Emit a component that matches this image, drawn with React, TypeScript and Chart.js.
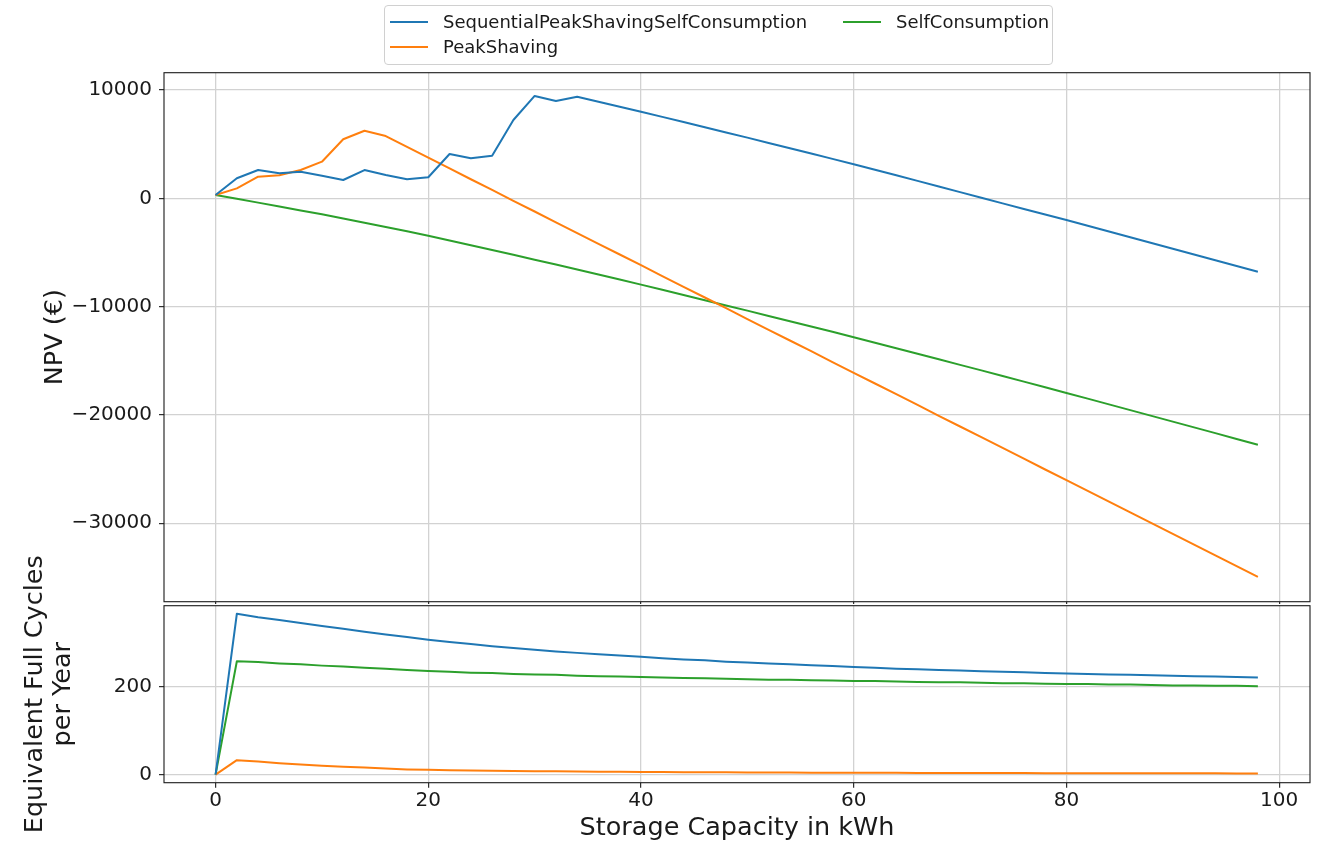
import React, { useEffect, useRef } from 'react';
import { Chart, registerables } from 'chart.js';

Chart.register(...registerables);

// ---------------- data ----------------
const capacity = [0, 2, 4, 6, 8, 10, 12, 14, 16, 18, 20, 22, 24, 26, 28, 30, 32, 34, 36, 38, 40, 42, 44, 46, 48, 50, 52, 54, 56, 58, 60, 62, 64, 66, 68, 70, 72, 74, 76, 78, 80, 82, 84, 86, 88, 90, 92, 94, 96, 98];

const seriesNames = ['SequentialPeakShavingSelfConsumption', 'PeakShaving', 'SelfConsumption'];
const seriesColors = ['#1f77b4', '#ff7f0e', '#2ca02c'];

const npvSequential = [300, 1850, 2610, 2310, 2460, 2090, 1690, 2610, 2150, 1750, 1940, 4090, 3690, 3930, 7230, 9450, 8980, 9380, 8920, 8460, 8000, 7520, 7040, 6560, 6080, 5600, 5110, 4620, 4130, 3640, 3140, 2630, 2120, 1610, 1090, 570, 50, -470, -990, -1500, -2010, -2540, -3070, -3600, -4130, -4660, -5190, -5720, -6250, -6780];
const npvPeakShaving = [300, 920, 1990, 2120, 2610, 3380, 5450, 6240, 5750, 4750, 3760, 2760, 1760, 770, -230, -1220, -2220, -3210, -4200, -5190, -6180, -7180, -8170, -9160, -10150, -11150, -12140, -13130, -14120, -15120, -16110, -17100, -18090, -19080, -20080, -21070, -22060, -23050, -24040, -25040, -26030, -27020, -28010, -29000, -30000, -30990, -31980, -32970, -33970, -34960];
const npvSelfConsumption = [300, -50, -400, -760, -1120, -1480, -1860, -2250, -2650, -3050, -3460, -3890, -4330, -4770, -5220, -5670, -6120, -6570, -7030, -7500, -7970, -8450, -8930, -9410, -9890, -10370, -10860, -11350, -11840, -12330, -12830, -13340, -13850, -14360, -14870, -15380, -15890, -16410, -16930, -17450, -17970, -18500, -19030, -19560, -20090, -20620, -21150, -21680, -22220, -22760];

const efcSequential = [0, 366, 358, 352, 345, 338, 332, 325, 319, 313, 307, 302, 297, 292, 288, 284, 280, 277, 274, 271, 268, 265, 262, 260, 257, 255, 253, 251, 249, 247, 245, 243, 241, 240, 238, 237, 235, 234, 233, 231, 230, 229, 228, 227, 226, 225, 224, 223, 222, 221];
const efcPeakShaving = [0, 33, 30, 26, 23, 20, 18, 16, 14, 12, 11, 10, 9.5, 9, 8.5, 8, 7.5, 7, 6.8, 6.5, 6.2, 6, 5.7, 5.5, 5.3, 5.1, 4.9, 4.7, 4.6, 4.4, 4.3, 4.2, 4.1, 4, 3.9, 3.8, 3.7, 3.6, 3.5, 3.4, 3.4, 3.3, 3.2, 3.2, 3.1, 3.1, 3, 3, 2.9, 2.9];
const efcSelfConsumption = [0, 258, 256, 253, 251, 248, 246, 243, 241, 238, 236, 234, 232, 231, 229, 228, 227, 225, 224, 223, 222, 221, 220, 219, 218, 217, 216, 216, 215, 214, 213, 213, 212, 211, 210, 210, 209, 208, 208, 207, 206, 206, 205, 205, 204, 203, 203, 202, 202, 201];

const xTickValues = [0, 20, 40, 60, 80, 100];
const npvTickValues = [10000, 0, -10000, -20000, -30000];
const efcTickValues = [0, 200];

const xTitle = 'Storage Capacity in kWh';
const npvTitle = 'NPV (€)';
const efcTitle = ['Equivalent Full Cycles', 'per Year'];

// ---------------- styling ----------------
const FONT = 'DejaVu Sans';
const TEXT = '#1a1a1a';
const GRID = '#d2d2d2';
const TICK_FONT = 20;
const TITLE_FONT = 25.5;

const fmt = (v: number) => (v < 0 ? '\u2212' + Math.abs(v) : String(v));

const framePlugin = {
  id: 'frame',
  afterDatasetsDraw(chart: any) {
    const { ctx, chartArea: a } = chart;
    ctx.save();
    ctx.strokeStyle = '#1a1a1a';
    ctx.lineWidth = 1.1;
    ctx.strokeRect(a.left, a.top, a.right - a.left, a.bottom - a.top);
    ctx.restore();
  },
};

const toPoints = (ys: number[]) => capacity.map((x, i) => ({ x, y: ys[i] }));

const makeDatasets = (series: number[][]) =>
  series.map((ys, i) => ({
    label: seriesNames[i],
    data: toPoints(ys),
    borderColor: seriesColors[i],
    backgroundColor: seriesColors[i],
    borderWidth: 2,
    pointRadius: 0,
    tension: 0,
    fill: false,
    borderJoinStyle: 'round' as const,
  }));

const zeroPad = (s: any) => {
  s.paddingTop = 0;
  s.paddingBottom = 0;
  s.paddingLeft = 0;
  s.paddingRight = 0;
};

const xScale = (showLabels: boolean, height: number) => ({
  type: 'linear' as const,
  min: -4.85,
  max: 102.9,
  afterBuildTicks: (s: any) => {
    s.ticks = xTickValues.map((v) => ({ value: v }));
  },
  afterFit: (s: any) => {
    s.height = height;
    zeroPad(s);
  },
  grid: { display: true, color: GRID, lineWidth: 1.3, drawTicks: true, tickLength: 5, tickColor: '#1a1a1a', tickWidth: 1.1 },
  border: { display: false },
  ticks: {
    display: showLabels,
    padding: 1,
    color: TEXT,
    font: { family: FONT, size: TICK_FONT, lineHeight: 1.2 },
    maxRotation: 0,
    callback: (v: any) => fmt(Number(v)),
  },
  title: showLabels
    ? { display: true, text: xTitle, color: TEXT, font: { family: FONT, size: TITLE_FONT, lineHeight: 1.1 }, padding: { top: 0, bottom: 0 } }
    : { display: false },
});

const yScale = (min: number, max: number, tickValues: number[], title: string | string[], titlePad: number, lineHeight: number) => ({
  type: 'linear' as const,
  min,
  max,
  afterBuildTicks: (s: any) => {
    s.ticks = tickValues.map((v) => ({ value: v }));
  },
  afterFit: (s: any) => {
    s.width = 164;
    zeroPad(s);
  },
  grid: { display: true, color: GRID, lineWidth: 1.3, drawTicks: true, tickLength: 5, tickColor: '#1a1a1a', tickWidth: 1.1 },
  border: { display: false },
  ticks: {
    padding: 7,
    color: TEXT,
    font: { family: FONT, size: TICK_FONT },
    callback: (v: any) => fmt(Number(v)),
  },
  title: { display: true, text: title, color: TEXT, font: { family: FONT, size: TITLE_FONT, lineHeight }, padding: { top: titlePad, bottom: 0 } },
});

function LegendItem({ i, x, y }: { i: number; x: number; y: number }) {
  return (
    <>
      <div style={{ position: 'absolute', left: x, top: y - 1, width: 38, height: 2, background: seriesColors[i] }} />
      <div
        style={{
          position: 'absolute',
          left: x + 53,
          top: y - 12,
          height: 24,
          lineHeight: '24px',
          fontFamily: FONT,
          fontSize: 18,
          color: TEXT,
          whiteSpace: 'nowrap',
        }}
      >
        {seriesNames[i]}
      </div>
    </>
  );
}

export default function App() {
  const topRef = useRef<HTMLCanvasElement>(null);
  const botRef = useRef<HTMLCanvasElement>(null);

  useEffect(() => {
    const top = new Chart(topRef.current as HTMLCanvasElement, {
      type: 'line',
      data: { datasets: makeDatasets([npvSequential, npvPeakShaving, npvSelfConsumption]) as any },
      options: {
        responsive: false,
        animation: false,
        devicePixelRatio: 1,
        layout: { padding: { left: 0, top: 72.7, right: 10, bottom: 0 } },
        plugins: { legend: { display: false }, tooltip: { enabled: false } },
        scales: {
          x: xScale(false, 2.3) as any,
          y: yScale(-37248, 11597, npvTickValues, npvTitle, 40, 1.2) as any,
        },
      },
      plugins: [framePlugin],
    });
    const bot = new Chart(botRef.current as HTMLCanvasElement, {
      type: 'line',
      data: { datasets: makeDatasets([efcSequential, efcPeakShaving, efcSelfConsumption]) as any },
      options: {
        responsive: false,
        animation: false,
        devicePixelRatio: 1,
        layout: { padding: { left: 0, top: 65.7, right: 10, bottom: 0 } },
        plugins: { legend: { display: false }, tooltip: { enabled: false } },
        scales: {
          x: xScale(true, 59.3) as any,
          y: yScale(-18.3, 384.3, efcTickValues, efcTitle, 21, 1.12) as any,
        },
      },
      plugins: [framePlugin],
    });
    return () => {
      top.destroy();
      bot.destroy();
    };
  }, []);

  return (
    <div style={{ position: 'absolute', left: 0, top: 0, width: 1320, height: 842, background: '#ffffff', overflow: 'hidden' }}>
      <canvas ref={topRef} width={1320} height={604} style={{ position: 'absolute', left: 0, top: 0, width: 1320, height: 604 }} />
      <canvas ref={botRef} width={1320} height={302} style={{ position: 'absolute', left: 0, top: 540, width: 1320, height: 302 }} />
      <div
        style={{
          position: 'absolute',
          left: 384,
          top: 5,
          width: 667,
          height: 58,
          border: '1px solid #d0d0d0',
          borderRadius: 4,
          background: 'rgba(255,255,255,0.85)',
        }}
      />
      <LegendItem i={0} x={390} y={22} />
      <LegendItem i={1} x={390} y={47} />
      <LegendItem i={2} x={843} y={22} />
    </div>
  );
}
